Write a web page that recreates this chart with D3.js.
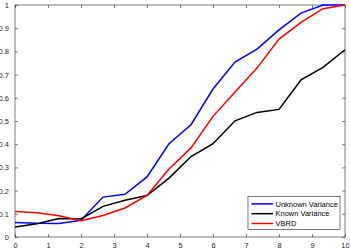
<!DOCTYPE html>
<html>
<head>
<meta charset="utf-8">
<script src="https://cdn.jsdelivr.net/npm/d3@7"></script>
<style>
  body { margin: 0; background: #fff; }
  svg { display: block; font-family: "Liberation Sans", Arial, sans-serif; }
</style>
</head>
<body>
<div id="chart-area"></div>
<script>
const MARGIN = { LEFT: 15, RIGHT: 5, TOP: 5, BOTTOM: 14 }
const WIDTH = 350 - MARGIN.LEFT - MARGIN.RIGHT
const HEIGHT = 251 - MARGIN.TOP - MARGIN.BOTTOM

// x positions of the samples (steps of 2/3)
const xs = d3.range(16).map(i => i * 10 / 15)

const unknownVar = [0.063, 0.059, 0.058, 0.072, 0.172, 0.184, 0.259, 0.402, 0.484, 0.638, 0.754, 0.81, 0.893, 0.965, 1.0, 1.0]
const knownVar = [0.043, 0.057, 0.08, 0.078, 0.132, 0.158, 0.179, 0.254, 0.347, 0.402, 0.501, 0.537, 0.55, 0.677, 0.731, 0.807]
const vbrd = [0.11, 0.105, 0.092, 0.07, 0.093, 0.125, 0.179, 0.293, 0.384, 0.52, 0.625, 0.728, 0.853, 0.925, 0.984, 1.0]

const xTicks = d3.range(0, 11, 1)
const yTicks = d3.range(0, 11, 1).map(d => d / 10)

const series = [
  { name: "Unknown Variance", values: unknownVar, color: "#0000ff" },
  { name: "Known Variance", values: knownVar, color: "#000000" },
  { name: "VBRD", values: vbrd, color: "#ff0000" }
]

const svg = d3.select('#chart-area').append('svg')
  .attr('width', WIDTH + MARGIN.LEFT + MARGIN.RIGHT)
  .attr('height', HEIGHT + MARGIN.TOP + MARGIN.BOTTOM)

const g = svg.append("g")
  .attr("transform", `translate(${MARGIN.LEFT}, ${MARGIN.TOP})`)

const x = d3.scaleLinear().domain([0, 10]).range([0, WIDTH])
const y = d3.scaleLinear().domain([0, 1]).range([HEIGHT, 0])

const axisColor = "#262626"

function styleAxis(sel, showText) {
  sel.select(".domain").remove()
  sel.selectAll("line").attr("stroke", axisColor).attr("stroke-width", 0.6)
  sel.selectAll("text")
    .attr("fill", axisColor)
    .attr("font-size", "7.5px")
  if (!showText) sel.selectAll("text").remove()
}

// inner ticks on all four sides
g.append("g")
  .attr("transform", `translate(0, ${HEIGHT})`)
  .call(d3.axisBottom(x).tickValues(xTicks).tickSizeInner(-3).tickSizeOuter(0).tickPadding(6).tickFormat(d3.format("d")))
  .call(s => styleAxis(s, true))

g.append("g")
  .call(d3.axisTop(x).tickValues(xTicks).tickSizeInner(-3).tickSizeOuter(0))
  .call(s => styleAxis(s, false))

g.append("g")
  .call(d3.axisLeft(y).tickValues(yTicks).tickSizeInner(-3).tickSizeOuter(0).tickPadding(6).tickFormat(d => d === 0 ? "0" : d === 1 ? "1" : d3.format(".1f")(d)))
  .call(s => styleAxis(s, true))

g.append("g")
  .attr("transform", `translate(${WIDTH}, 0)`)
  .call(d3.axisRight(y).tickValues(yTicks).tickSizeInner(-3).tickSizeOuter(0))
  .call(s => styleAxis(s, false))

// frame
g.append("rect")
  .attr("x", 0).attr("y", 0)
  .attr("width", WIDTH).attr("height", HEIGHT)
  .attr("fill", "none")
  .attr("stroke", axisColor)
  .attr("stroke-width", 0.6)

const line = d3.line()
  .x((d, i) => x(xs[i]))
  .y(d => y(d))

g.selectAll(".series").data(series)
  .enter()
  .append("path")
  .attr("class", "series")
  .attr("d", d => line(d.values))
  .attr("fill", "none")
  .attr("stroke", d => d.color)
  .attr("stroke-width", 1.5)

// legend
const legend = g.append("g")
  .attr("transform", `translate(${x(7.06)}, ${y(0.175)})`)

legend.append("rect")
  .attr("width", 92).attr("height", 33)
  .attr("fill", "#fff")
  .attr("stroke", axisColor)
  .attr("stroke-width", 0.6)

const items = legend.selectAll(".item").data(series)
  .enter()
  .append("g")
  .attr("class", "item")
  .attr("transform", (d, i) => `translate(0, ${7.5 + i * 9.8})`)

items.append("line")
  .attr("x1", 3.5).attr("x2", 25)
  .attr("stroke", d => d.color)
  .attr("stroke-width", 1.5)

items.append("text")
  .attr("x", 27.5)
  .attr("dy", "0.35em")
  .attr("font-size", "7.5px")
  .attr("fill", "#000")
  .text(d => d.name)
</script>
</body>
</html>
